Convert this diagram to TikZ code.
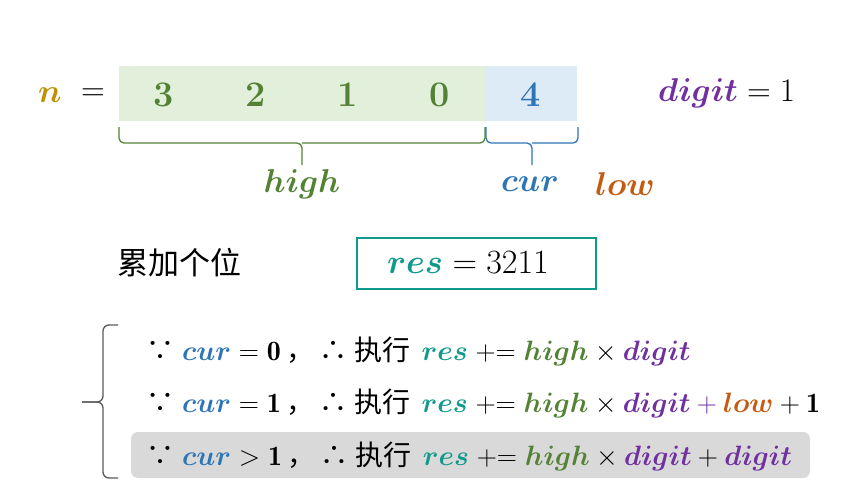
\RequirePackage{fix-cm}
\documentclass[tikz,border=0pt]{standalone}
\usepackage{amsmath,bm}
\usepackage{fontspec}
\newfontfamily\cjk{Noto Sans CJK SC}
\definecolor{cgold}{HTML}{BF9000}
\definecolor{cgreen}{HTML}{548235}
\definecolor{cblue}{HTML}{2E75B6}
\definecolor{cpurple}{HTML}{7030A0}
\definecolor{corange}{HTML}{C55A11}
\definecolor{cteal}{HTML}{0F9A8B}
\definecolor{gfill}{HTML}{E2EFDA}
\definecolor{bfill}{HTML}{DDEBF7}
\definecolor{rowgray}{HTML}{D9D9D9}
\definecolor{bracegray}{HTML}{595959}
\newcommand{\vcur}{\textcolor{cblue}{\bm{cur}}}
\newcommand{\vres}{\textcolor{cteal}{\bm{res}}}
\newcommand{\vhigh}{\textcolor{cgreen}{\bm{high}}}
\newcommand{\vdigit}{\textcolor{cpurple}{\bm{digit}}}
\newcommand{\vlow}{\textcolor{corange}{\bm{low}}}
\newcommand{\pluseq}{\mathrel{{+}{=}}}
\newcommand{\lead}[2]{{\cjk ∵}\hspace{0.28em}$\vcur #1 \mathbf{#2}$\hspace{0.2em}{\cjk ，}\hspace{0.18em}{\cjk ∴}\hspace{0.25em}{\cjk 执行}\hspace{0.4em}}
\begin{document}
\begin{tikzpicture}[x=1pt,y=-1pt,
  big/.style={font=\fontsize{33}{38}\selectfont, inner sep=0pt},
  row/.style={font=\fontsize{28}{33}\selectfont, inner sep=0pt, anchor=west},
  dig/.style={font=\fontsize{36}{40}\selectfont\bfseries, inner sep=0pt}]
\useasboundingbox (0,0) rectangle (858,493);
% number cells
\fill[gfill] (119,66) rectangle (485,121);
\fill[bfill] (485,66) rectangle (577,121);
\node[big] (n) at (50,95) {$\textcolor{cgold}{\bm{n}}$};
\node[big] (eq) at (93,95) {$=$};
\node[dig, text=cgreen] (d3) at (164,95) {3};
\node[dig, text=cgreen] (d2) at (256,95) {2};
\node[dig, text=cgreen] (d1) at (348,95) {1};
\node[dig, text=cgreen] (d0) at (440,95) {0};
\node[dig, text=cblue] (d4) at (531,95) {4};
\node[big, anchor=west] (dg) at (658,93) {$\vdigit = 1$};
% braces
\draw[cgreen, line width=1.3pt, rounded corners=5pt] (119,127) -- (119,143) -- (302,143) -- (302,165);
\draw[cgreen, line width=1.3pt, rounded corners=5pt] (485,127) -- (485,143) -- (302,143);
\draw[cblue, line width=1.3pt, rounded corners=5pt] (486,127) -- (486,143) -- (532,143) -- (532,165);
\draw[cblue, line width=1.3pt, rounded corners=5pt] (578,127) -- (578,143) -- (532,143);
\node[big] (hi) at (302,184) {$\vhigh$};
\node[big] (cu) at (530,184) {$\vcur$};
\node[big] (lo) at (625,184) {$\vlow$};
% accumulate
\node[inner sep=0pt, anchor=west, font=\cjk\fontsize{31}{36}\selectfont] (acc) at (117,263) {累加个位};
\node[draw=cteal, line width=1.3pt, minimum width=239pt, minimum height=51pt, inner sep=0pt] (resbox) at (476.5,263.5) {};
\node[inner sep=0pt, font=\fontsize{34}{38}\selectfont] (restext) at (468,263) {$\vres = 3211$};
% left brace
\draw[bracegray, line width=1.3pt, rounded corners=6pt] (118,325) -- (103,325) -- (103,402) -- (82,402);
\draw[bracegray, line width=1.3pt, rounded corners=6pt] (118,478) -- (103,478) -- (103,402) -- (82,402);
% rows
\fill[rowgray, rounded corners=7pt] (131,432) rectangle (810,478);
\node[row] (r1) at (146,351) {\lead{=}{0}$\vres \pluseq \vhigh \times \vdigit$};
\node[row] (r2) at (146,403) {\lead{=}{1}$\vres \pluseq \vhigh \times \vdigit \mathbin{\textcolor{cpurple}{+}} \vlow + \mathbf{1}$};
\node[row] (r3) at (146,456) {\lead{>}{1}$\vres \pluseq \vhigh \times \vdigit + \vdigit$};
\end{tikzpicture}
\end{document}
